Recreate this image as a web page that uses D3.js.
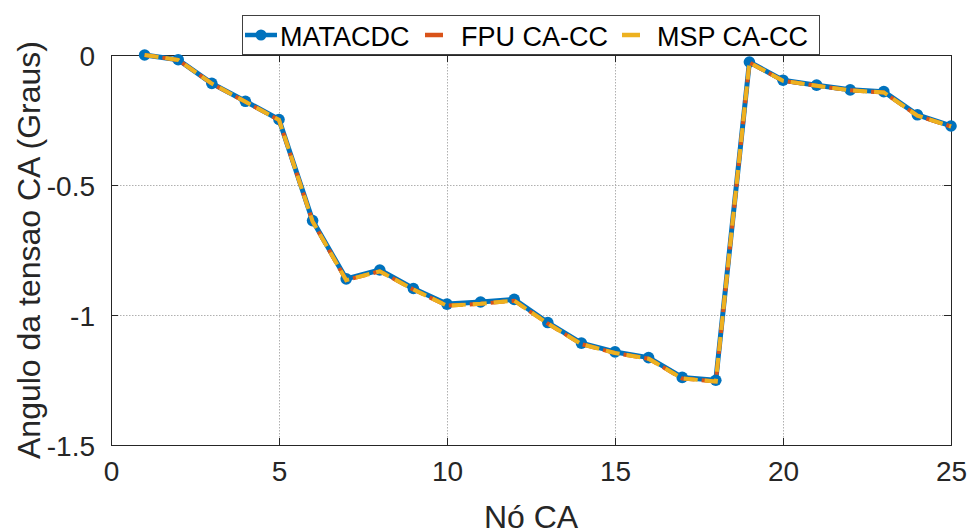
<!DOCTYPE html>
<html>
<head>
<meta charset="utf-8">
<script src="https://cdn.jsdelivr.net/npm/d3@7"></script>
<style>
  body { margin: 0; background: #fff; }
  svg { font-family: Arial, "Liberation Sans", Helvetica, sans-serif; }
</style>
</head>
<body>
<div id="chart"></div>
<script>
//data
const nodes = d3.range(1, 26);
const matacdc = [0, -0.018, -0.109, -0.178, -0.248, -0.637, -0.861, -0.827, -0.898, -0.958,
                 -0.950, -0.940, -1.029, -1.108, -1.142, -1.164, -1.240, -1.251, -0.027, -0.097,
                 -0.116, -0.134, -0.141, -0.230, -0.273];
const fpu = [0, -0.019, -0.110, -0.180, -0.250, -0.640, -0.866, -0.832, -0.902, -0.964,
             -0.957, -0.945, -1.033, -1.112, -1.146, -1.168, -1.244, -1.256, -0.029, -0.099,
             -0.118, -0.136, -0.144, -0.233, -0.275];
const msp = fpu.slice();
const xTicks = [0, 5, 10, 15, 20, 25];
const yTicks = [0, -0.5, -1, -1.5];
const legendNames = ["MATACDC", "FPU CA-CC", "MSP CA-CC"];

const width = 969, height = 532;
const margin = {left: 111, right: 18, top: 55, bottom: 87};
const colors = {blue: "#0072BD", orange: "#D95319", yellow: "#EDB120", axis: "#262626"};

let svg = d3.select("#chart").append("svg")
            .attr("width", width)
            .attr("height", height);

//scales
let x = d3.scaleLinear().domain([0, 25]).range([margin.left, width - margin.right]);
let y = d3.scaleLinear().domain([-1.5, 0]).range([height - margin.bottom, margin.top]);

//grid (dotted)
let grid = svg.append("g").attr("stroke", "#b0b0b0").attr("stroke-width", 1)
              .attr("stroke-dasharray", "1.5,1.5");
grid.selectAll(".gx").data(xTicks.slice(1, -1)).enter().append("line")
    .attr("x1", d => x(d) + 0.5).attr("x2", d => x(d) + 0.5)
    .attr("y1", y(0)).attr("y2", y(-1.5));
grid.selectAll(".gy").data(yTicks.slice(1, -1)).enter().append("line")
    .attr("x1", x(0)).attr("x2", x(25))
    .attr("y1", d => y(d) + 0.5).attr("y2", d => y(d) + 0.5);

//axes, ticks inward
let xAxis = svg.append("g").attr("transform", `translate(0,${y(-1.5)})`)
               .call(d3.axisBottom(x).tickValues(xTicks).tickSize(-7).tickPadding(16)
                       .tickFormat(d3.format("d")));
let xAxisTop = svg.append("g").attr("transform", `translate(0,${y(0)})`)
                  .call(d3.axisTop(x).tickValues(xTicks).tickSize(-7).tickFormat(""));
let yAxis = svg.append("g").attr("transform", `translate(${x(0)},0)`)
               .call(d3.axisLeft(y).tickValues(yTicks).tickSize(-7).tickPadding(16)
                       .tickFormat(d => d === 0 ? "0" : d3.format("")(d).replace("−", "-")));
let yAxisRight = svg.append("g").attr("transform", `translate(${x(25)},0)`)
                    .call(d3.axisRight(y).tickValues(yTicks).tickSize(-7).tickFormat(""));

[xAxis, xAxisTop, yAxis, yAxisRight].forEach(function(a) {
  a.selectAll("path, line").attr("stroke", colors.axis).attr("stroke-width", 1);
  a.selectAll("text").attr("fill", colors.axis).style("font-size", "28px");
});
xAxis.selectAll("text").attr("dy", "0.71em");
yAxis.selectAll("text").attr("dy", "0.36em");

//lines
let line = d3.line().x((d, i) => x(nodes[i])).y(d => y(d));

svg.append("path").datum(matacdc)
   .attr("fill", "none").attr("stroke", colors.blue).attr("stroke-width", 5)
   .attr("stroke-linejoin", "round")
   .attr("d", line);
svg.selectAll(".marker").data(matacdc).enter().append("circle")
   .attr("cx", (d, i) => x(nodes[i])).attr("cy", d => y(d))
   .attr("r", 5.8).attr("fill", colors.blue);

svg.append("path").datum(fpu)
   .attr("fill", "none").attr("stroke", colors.orange).attr("stroke-width", 4)
   .attr("stroke-dasharray", "14,7").attr("stroke-dashoffset", 3)
   .attr("d", line);
svg.append("path").datum(msp)
   .attr("fill", "none").attr("stroke", colors.yellow).attr("stroke-width", 4)
   .attr("stroke-dasharray", "14,7").attr("stroke-dashoffset", 0)
   .attr("d", line);

//axis labels
svg.append("text")
   .attr("x", (x(0) + x(25)) / 2).attr("y", 528)
   .attr("text-anchor", "middle").attr("fill", colors.axis)
   .style("font-size", "32px")
   .text("Nó CA");
svg.append("text")
   .attr("transform", `translate(40,${(y(0) + y(-1.5)) / 2}) rotate(-90)`)
   .attr("text-anchor", "middle").attr("fill", colors.axis)
   .style("font-size", "32px")
   .text("Angulo da tensao CA (Graus)");

//legend
let legend = svg.append("g");
legend.append("rect")
      .attr("x", 242.5).attr("y", 15.5).attr("width", 577).attr("height", 39)
      .attr("fill", "#fff").attr("stroke", "#404040").attr("stroke-width", 1);
let legendItems = [
  {name: legendNames[0], color: colors.blue, x1: 245, x2: 277, tx: 280, marker: true},
  {name: legendNames[1], color: colors.orange, x1: 425, x2: 443, tx: 461, marker: false},
  {name: legendNames[2], color: colors.yellow, x1: 622, x2: 640, tx: 657, marker: false}
];
legendItems.forEach(function(d) {
  legend.append("line")
        .attr("x1", d.x1).attr("x2", d.x2).attr("y1", 35).attr("y2", 35)
        .attr("stroke", d.color).attr("stroke-width", 4.5);
  if (d.marker) {
    legend.append("circle").attr("cx", (d.x1 + d.x2) / 2).attr("cy", 35)
          .attr("r", 5.5).attr("fill", d.color);
  }
  legend.append("text")
        .attr("x", d.tx).attr("y", 46)
        .attr("fill", "#000")
        .style("font-size", "27px")
        .text(d.name);
});
</script>
</body>
</html>
